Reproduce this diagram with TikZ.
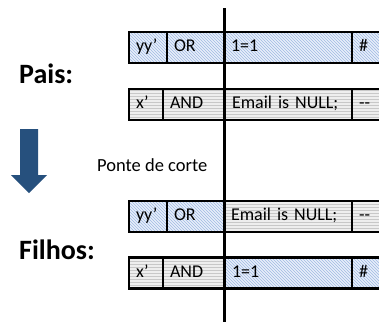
\documentclass[tikz,border=0pt]{standalone}
\usepackage{fontspec}
\setmainfont{Carlito}
\usetikzlibrary{positioning,patterns}
\definecolor{hatchblue}{RGB}{160,186,226}
\definecolor{fillblue}{RGB}{232,239,250}
\definecolor{hatchgray}{RGB}{200,200,200}
\definecolor{fillgray}{RGB}{238,238,238}
\definecolor{arrowblue}{RGB}{38,80,125}
\newcommand{\cellfont}{\fontsize{18}{21}\selectfont}

\begin{document}
\begin{tikzpicture}[x=1pt,y=-1pt,
  cell/.style={draw,line width=2.5pt,outer sep=0pt,inner xsep=7pt,inner ysep=0pt,
    minimum height=31pt,text width=#1,align=left,text height=12.5pt,text depth=4pt,
    font=\cellfont,anchor=west},
  hatched/.style={preaction={fill=fillblue},
    preaction={pattern=north west lines,pattern color=hatchblue}},
  striped/.style={preaction={fill=fillgray},
    preaction={pattern=horizontal lines,pattern color=hatchgray}},
  label/.style={anchor=west,inner sep=0pt}]
       \clip (0,0) rectangle (379,322);
       % Pais
       \node[cell=24pt,hatched] (p1a) at (129,47.5) {yy’};
       \node[cell=43pt,hatched,right=0pt of p1a] (p1b) {OR};
       \node[cell=114pt,hatched,right=0pt of p1b] (p1c) {1=1};
       \node[cell=36pt,hatched,right=0pt of p1c] (p1d) {\#};
       \node[cell=20pt,striped] (p2a) at (129,104.5) {x’};
       \node[cell=48pt,striped,right=0pt of p2a] (p2b) {AND};
       \node[cell=113pt,striped,right=0pt of p2b] (p2c) {Email is NULL;};
       \node[cell=36pt,striped,right=0pt of p2c] (p2d) {-{}-};
       % Filhos
       \node[cell=24pt,hatched] (f1a) at (129,216.5) {yy’};
       \node[cell=43pt,hatched,right=0pt of f1a] (f1b) {OR};
       \node[cell=114pt,striped,right=0pt of f1b] (f1c) {Email is NULL;};
       \node[cell=36pt,striped,right=0pt of f1c] (f1d) {-{}-};
       \node[cell=20pt,striped] (f2a) at (129,273) {x’};
       \node[cell=48pt,striped,right=0pt of f2a] (f2b) {AND};
       \node[cell=113pt,hatched,right=0pt of f2b] (f2c) {1=1};
       \node[cell=36pt,hatched,right=0pt of f2c] (f2d) {\#};
       % corte
       \coordinate (cuttop) at (224,8);
       \coordinate (cutbot) at (224,322);
       \draw[line width=3pt] (cuttop) -- (cutbot);
       \fill[arrowblue] (20,129) -- (38,129) -- (38,175) -- (47,175) --
         (29,193) -- (11,175) -- (20,175) -- cycle;
       \node[label,font=\bfseries\fontsize{28}{32}\selectfont] (pais) at (19,74) {Pais:};
       \node[label,font=\bfseries\fontsize{28}{32}\selectfont] (filhos) at (19,250) {Filhos:};
       \node[label,font=\fontsize{18.5}{21}\selectfont] (ponte) at (97,165) {Ponte de corte};
      \end{tikzpicture}
\end{document}
